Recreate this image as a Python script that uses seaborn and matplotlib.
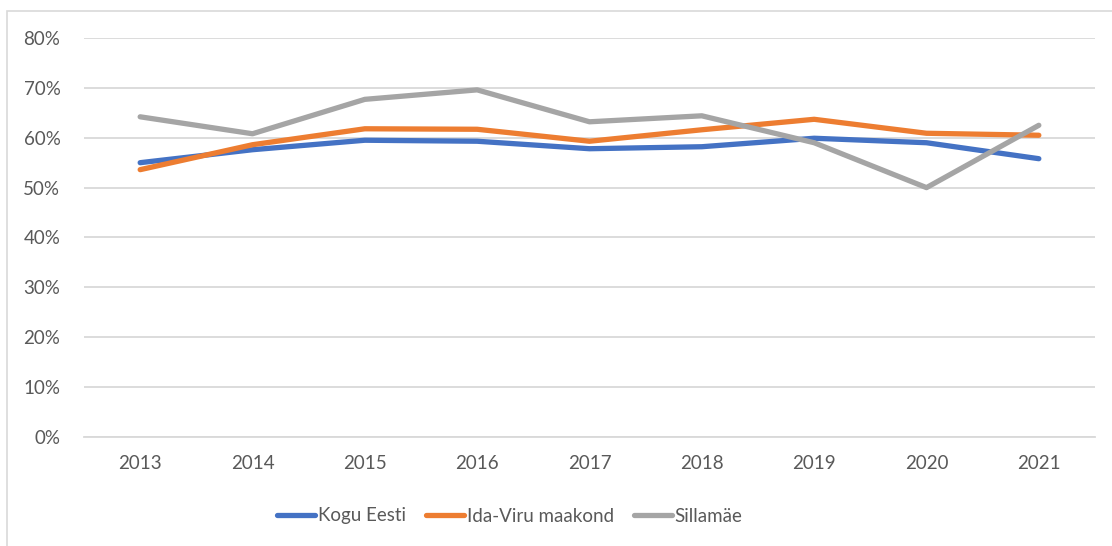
import matplotlib
matplotlib.use("Agg")
import matplotlib.pyplot as plt
import seaborn as sns
import pandas as pd
from matplotlib.patches import Rectangle
from matplotlib.ticker import PercentFormatter
from matplotlib.lines import Line2D

years = ["2013", "2014", "2015", "2016", "2017", "2018", "2019", "2020", "2021"]
kogu_eesti = [55.0, 57.6, 59.5, 59.3, 57.8, 58.2, 59.9, 59.0, 55.8]
ida_viru = [53.6, 58.6, 61.8, 61.7, 59.3, 61.6, 63.7, 60.9, 60.5]
sillamae = [64.2, 60.8, 67.7, 69.6, 63.2, 64.4, 59.0, 50.0, 62.5]
series_names = ["Kogu Eesti", "Ida-Viru maakond", "Sillamäe"]
colors = ["#4472C4", "#ED7D31", "#A5A5A5"]
y_ticks = [0, 10, 20, 30, 40, 50, 60, 70, 80]

df = pd.DataFrame({
    "Aasta": years * 3,
    "Väärtus": kogu_eesti + ida_viru + sillamae,
    "Seeria": [series_names[0]] * 9 + [series_names[1]] * 9 + [series_names[2]] * 9,
})

sns.set_theme(style="white")
plt.rcParams["font.family"] = ["Lato", "DejaVu Sans"]

W, H = 1112, 546
fig = plt.figure(figsize=(W / 100, H / 100), dpi=100)
ax = fig.add_axes([84 / W, 1 - 437 / H, (1095 - 84) / W, (437 - 38) / H])

sns.lineplot(data=df, x="Aasta", y="Väärtus", hue="Seeria", palette=colors,
             linewidth=3.8, ax=ax, legend=False, sort=False,
             solid_capstyle="round")

ax.set_xlim(-0.5, len(years) - 0.5)
ax.set_ylim(0, 80)
ax.set_yticks(y_ticks)
ax.yaxis.set_major_formatter(PercentFormatter(decimals=0))
ax.grid(axis="y", color="#D9D9D9", linewidth=1.3)
ax.set_axisbelow(True)
for s in ax.spines.values():
    s.set_visible(False)
ax.spines["bottom"].set_visible(True)
ax.spines["bottom"].set_color("#D9D9D9")
ax.spines["bottom"].set_linewidth(1.3)
ax.set_xlabel("")
ax.set_ylabel("")
ax.tick_params(axis="both", length=0, colors="#595959", labelsize=13.5)
ax.tick_params(axis="y", pad=17)
ax.tick_params(axis="x", pad=13)

handles = [Line2D([0], [0], color=c, linewidth=3.8, solid_capstyle="round") for c in colors]
fig.legend(handles, series_names, loc="center", bbox_to_anchor=(510 / W, 1 - 516 / H),
           ncol=3, frameon=False, fontsize=13.5, handlelength=2.0, handletextpad=0.15,
           columnspacing=1.1, labelcolor="#595959")

fig.patches.append(Rectangle((7 / W, -0.1), 1.2, 1 - 11 / H + 0.1, transform=fig.transFigure,
                             fill=False, edgecolor="#D9D9D9", linewidth=1.2))

fig.savefig("out.png", dpi=100, facecolor="white")
